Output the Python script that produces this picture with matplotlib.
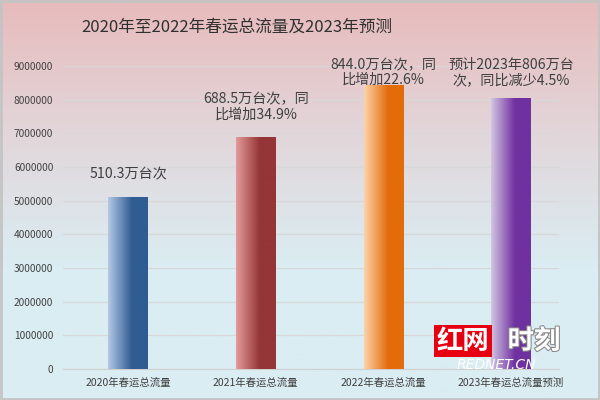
import matplotlib.pyplot as plt
import matplotlib.patheffects as pe
import numpy as np
from matplotlib.colors import LinearSegmentedColormap
from matplotlib.patches import Rectangle

plt.rcParams['font.family'] = ['Noto Sans CJK SC', 'DejaVu Sans']

# 数据
categories = ["2020年春运总流量", "2021年春运总流量", "2022年春运总流量", "2023年春运总流量预测"]
values = [5103000, 6885000, 8440000, 8060000]
labels = ["510.3万台次", "688.5万台次，同\n比增加34.9%", "844.0万台次，同\n比增加22.6%",
          "预计2023年806万台\n次，同比减少4.5%"]
yticks = [0, 1000000, 2000000, 3000000, 4000000, 5000000, 6000000, 7000000, 8000000, 9000000]
title = "2020年至2022年春运总流量及2023年预测"

farben = [("#b3c8e4", "#2f5c92"), ("#e29a98", "#953537"),
          ("#fcd3aa", "#e36c0a"), ("#d2c4e2", "#7031a0")]

fig = plt.figure(figsize=(6, 4), dpi=100)

# hintergrund
bg = fig.add_axes([0, 0, 1, 1], zorder=-5)
bgmap = LinearSegmentedColormap.from_list("bg", ["#e8bbbc", "#e2d6da", "#daedf2", "#daedf2"])
bg.imshow(np.linspace(0, 1, 256).reshape(-1, 1), aspect="auto", cmap=bgmap,
          extent=[0, 1, 0, 1], origin="upper")
bg.set_xlim(0, 1)
bg.set_ylim(0, 1)
bg.axis("off")
bg.add_patch(Rectangle((0.002, 0.003), 0.996, 0.994, fill=False, edgecolor="#c4c4c4", lw=2))

ax = fig.add_axes([63 / 600, 31 / 400, 496 / 600, 303 / 400])
ax.set_facecolor("none")
x = np.arange(len(categories))
breite = 0.31
bars = ax.bar(x, values, width=breite, color="none", zorder=3)

for b, (c1, c2) in zip(bars, farben):
    cmap = LinearSegmentedColormap.from_list("g", [(0, c1), (0.6, c2), (1, c2)])
    grad = np.linspace(0, 1, 100).reshape(1, -1)
    im = ax.imshow(grad, aspect="auto", cmap=cmap, zorder=3,
                   extent=[b.get_x(), b.get_x() + b.get_width(), 0, b.get_height()])
    im.set_clip_path(b)

# beschriftungen, oben begrenzt wie in excel
for xi, v, t in zip(x, values, labels):
    ypos = min(v + 460000, 8380000)
    ax.text(xi, ypos, t, ha="center", va="bottom", fontsize=10.2,
            color="#404040", linespacing=1.1, clip_on=False)

ax.set_xlim(-0.51, 3.375)
ax.set_ylim(0, 9000000)
ax.set_yticks(yticks)
ax.set_yticklabels([str(t) for t in yticks])
ax.set_xticks(x)
ax.set_xticklabels(categories)
ax.tick_params(axis="y", length=0, pad=7, labelsize=7.3, labelcolor="#404040")
ax.tick_params(axis="x", length=0, pad=6, labelsize=7.5, labelcolor="#404040")
ax.grid(axis="y", color="#d8d8d8", lw=0.9, zorder=0)
for s in ["top", "right", "left"]:
    ax.spines[s].set_visible(False)
ax.spines["bottom"].set_color("#d0d0d0")

fig.text(0.395, 0.932, title, ha="center", va="center", fontsize=12, color="#303030")

# wasserzeichen
fig.text(0.772, 0.147, "红网", ha="center", va="center", fontsize=19, fontweight="bold",
         style="italic", color="white",
         bbox=dict(boxstyle="square,pad=0.1", fc="#e60012", ec="none"))
fig.text(0.89, 0.147, "时刻", ha="center", va="center", fontsize=19, fontweight="bold",
         style="italic", color="white",
         path_effects=[pe.withStroke(linewidth=1.5, foreground="#888888")])
fig.text(0.828, 0.0875, "REDNET.CN", ha="center", va="center", fontsize=10,
         style="italic", color="white", family="DejaVu Sans")

fig.savefig("out.png", dpi=100)
